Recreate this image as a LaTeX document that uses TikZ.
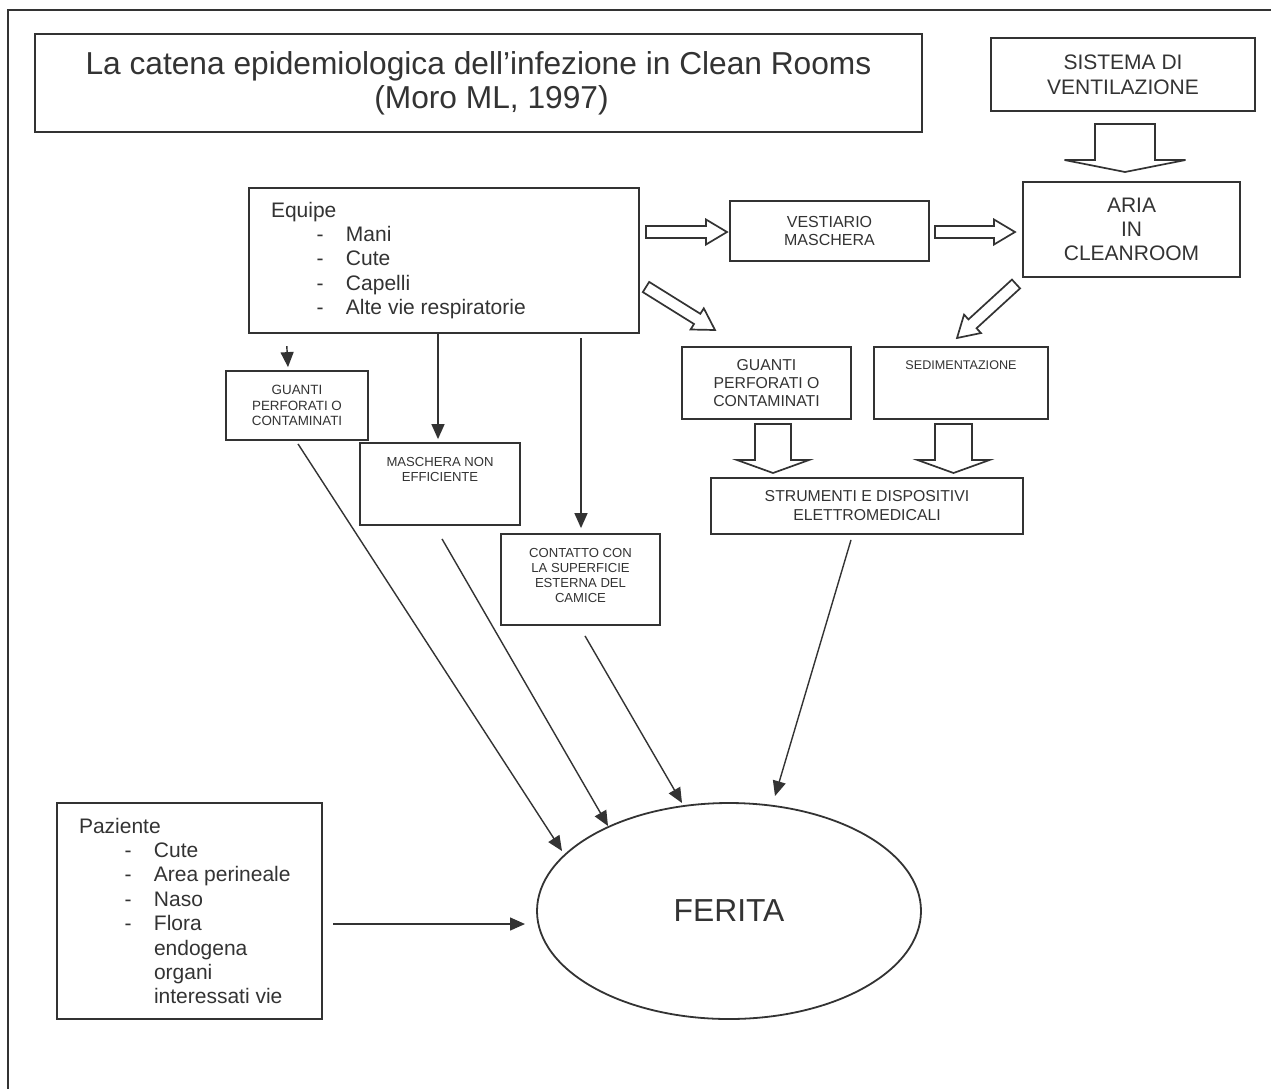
\documentclass[tikz,border=0pt]{standalone}
\usepackage{fontspec}
\setmainfont{Liberation Sans}
\usetikzlibrary{arrows.meta,calc,shapes.geometric}
\definecolor{ln}{HTML}{333333}
\definecolor{tx}{HTML}{333333}
\newcommand\barrow[5]{%
  \coordinate (ba-n) at ($(#2)!#5!(#1)$);
  \draw[blk] ($(#1)!#3!90:(#2)$) -- ($(ba-n)!#3!-90:(#1)$) -- ($(ba-n)!#4!-90:(#1)$) -- (#2)
     -- ($(ba-n)!#4!90:(#1)$) -- ($(ba-n)!#3!90:(#1)$) -- ($(#1)!#3!-90:(#2)$) -- cycle;}
\newcommand\itm[1]{\makebox[75pt][l]{\hspace*{45.5pt}-}#1}
\newcommand\cnt[1]{\hspace*{75pt}#1}
\begin{document}
\begin{tikzpicture}[x=1pt,y=-1pt,
  box/.style={draw=ln, line width=2.4pt, inner sep=0pt, text=tx},
  sbox/.style={draw=ln, line width=1.8pt, inner sep=0pt, text=tx},
  blk/.style={draw=ln, line width=1.7pt, fill=white, line join=miter},
  con/.style={draw=ln, line width=1.4pt, -{Triangle[length=15pt,width=13pt]}}]
\fill[white] (0,0) rectangle (1271,1088);
\clip (0,0) rectangle (1271,1088);
\draw[ln, line width=2.2pt] (8,1100) -- (8,10) -- (1290,10);

% title
\node[box] (title) at (478.5,83) {\parbox[c][98pt][c]{887pt}{\centering\fontsize{31.7}{34}\selectfont La catena epidemiologica dell’infezione in Clean Rooms\\\hspace*{26pt}(Moro ML, 1997)}};

% top right
\node[box] (sistema) at (1123,74.5) {\parbox[c][73pt][c]{264pt}{\centering\fontsize{21}{25}\selectfont SISTEMA DI\\VENTILAZIONE}};
\node[box] (aria) at (1131.5,229.5) {\parbox[c][95pt][c]{217pt}{\centering\fontsize{21}{24}\selectfont ARIA\\IN\\CLEANROOM}};
\node[sbox, line width=2pt] (vest) at (829.5,231) {\parbox[c][60pt][c]{199pt}{\centering\fontsize{16}{18}\selectfont VESTIARIO\\MASCHERA}};

% equipe
\node[box] (equipe) at (444,260.5) {\parbox[c][145pt][c]{390pt}{\raggedright\leftskip=22pt\fontsize{21}{24.3}\selectfont Equipe\\\itm{Mani}\\\itm{Cute}\\\itm{Capelli}\\\itm{Alte vie respiratorie}}};

% middle boxes
\node[sbox] (guanti1) at (297,405.5) {\parbox[c][69pt][c]{142pt}{\centering\fontsize{13.4}{15.5}\selectfont GUANTI\\PERFORATI O\\CONTAMINATI}};
\node[sbox] (maschera) at (440,484) {\parbox[c][82pt][t]{160pt}{\centering\fontsize{13.1}{15}\selectfont\vspace*{14.3pt}MASCHERA NON\\EFFICIENTE}};
\node[sbox] (contatto) at (580.5,579.5) {\parbox[c][91pt][t]{159pt}{\centering\fontsize{13.1}{15}\selectfont\vspace*{14.3pt}CONTATTO CON\\LA SUPERFICIE\\ESTERNA DEL\\CAMICE}};
\node[sbox] (guanti2) at (766.5,383) {\parbox[c][72pt][c]{169pt}{\centering\fontsize{15.8}{18}\selectfont GUANTI\\PERFORATI O\\CONTAMINATI}};
\node[sbox] (sedim) at (961,383) {\parbox[c][72pt][t]{174pt}{\centering\fontsize{12.6}{15}\selectfont\vspace*{13.5pt}SEDIMENTAZIONE}};
\node[sbox] (strumenti) at (867,506) {\parbox[c][56pt][c]{312pt}{\centering\fontsize{15.8}{19}\selectfont STRUMENTI E DISPOSITIVI\\ELETTROMEDICALI}};

% paziente
\node[box] (paziente) at (189.5,911) {\parbox[c][216pt][c]{265pt}{\raggedright\leftskip=22pt\fontsize{21}{24.4}\selectfont Paziente\\\itm{Cute}\\\itm{Area perineale}\\\itm{Naso}\\\itm{Flora}\\\cnt{endogena}\\\cnt{organi}\\\cnt{interessati vie}}};

% ferita
\node[ellipse, draw=ln, line width=1.8pt, inner sep=0pt, minimum width=384pt, minimum height=216pt, text=tx, font=\fontsize{31.8}{34}\selectfont] (ferita) at (729,911) {FERITA};

% block arrows
\coordinate (b1s) at (1125,124); \coordinate (b1e) at (1125,172);
\barrow{b1s}{b1e}{30pt}{60.5pt}{12pt}
\coordinate (b2s) at (646,232); \coordinate (b2e) at (727,232);
\barrow{b2s}{b2e}{6pt}{12.5pt}{21pt}
\coordinate (b3s) at (935,232); \coordinate (b3e) at (1015,232);
\barrow{b3s}{b3e}{6pt}{12.5pt}{21pt}
\coordinate (b4s) at (646,287); \coordinate (b4e) at (715,330);
\barrow{b4s}{b4e}{6pt}{12.5pt}{21pt}
\coordinate (b5s) at (1016,284); \coordinate (b5e) at (957,338);
\barrow{b5s}{b5e}{6pt}{12.5pt}{21pt}
\coordinate (b6s) at (773,424); \coordinate (b6e) at (773,473);
\barrow{b6s}{b6e}{18pt}{36pt}{13pt}
\coordinate (b7s) at (953.5,424); \coordinate (b7e) at (953.5,473);
\barrow{b7s}{b7e}{18.5pt}{36pt}{13pt}

% connectors
\coordinate (t1) at (562,851);
\coordinate (t2) at (608,826);
\coordinate (t3) at (682,803);
\coordinate (t4) at (775,796);
\coordinate (t5) at (525,924);
\draw[con] ($(equipe.south west)+(39,12)$) -- ($(guanti1.north)+(-9,-3)$);
\draw[con] ($(equipe.south)+(-6,0)$) -- ($(maschera.north)+(-2,-3)$);
\draw[con] ($(equipe.south)+(137,4)$) -- ($(contatto.north)+(0.5,-5)$);
\draw[con] ($(guanti1.south)+(1,3)$) -- (t1);
\draw[con] ($(maschera.south)+(2,13)$) -- (t2);
\draw[con] ($(contatto.south)+(4.5,10)$) -- (t3);
\draw[con] ($(strumenti.south)+(-16,5)$) -- (t4);
\draw[con] ($(paziente.east)+(10,13)$) -- (t5);
\end{tikzpicture}
\end{document}
